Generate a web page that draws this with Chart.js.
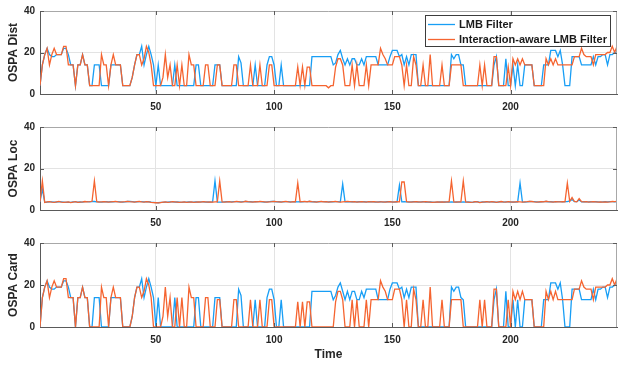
<!DOCTYPE html>
<html><head><meta charset="utf-8">
<script src="https://cdn.jsdelivr.net/npm/chart.js@4.4.1/dist/chart.umd.min.js"></script>
<style>
html,body{margin:0;padding:0;background:#fff;width:623px;height:366px;overflow:hidden;position:relative}
canvas{position:absolute;left:0}
</style></head>
<body>
<canvas id="c1" width="623" height="112" style="top:0px"></canvas>
<canvas id="c2" width="623" height="112" style="top:115px"></canvas>
<canvas id="c3" width="623" height="136" style="top:230px"></canvas>
<script>
const seriesNames = ['LMB Filter', 'Interaction-aware LMB Filter'];
const panelTitles = ['OSPA Dist', 'OSPA Loc', 'OSPA Card'];
const xTitle = 'Time';
const xTicks = [50, 100, 150, 200];
const yTicks = [0, 20, 40];
const time = Array.from({length: 245}, (_, i) => i + 1);

const distLMB = [
4,14,19,22,19,18,18,19,19,19,
22,22,19,14,14,4,14,14,19,14,
14,4,4,14,14,14,4,4,4,4,
14,14,14,14,14,4,4,4,4,8,
14,19,19,23,14,19,23,19,14,4,
14,4,4,4,4,4,4,14,4,4,
4,4,4,4,4,4,14,14,4,4,
4,4,4,4,14,14,14,4,4,4,
4,4,4,4,18,15,4,4,4,4,
4,14,4,4,4,4,14,18,18,14,
4,4,14,4,4,4,4,4,4,4,
4,4,4,4,4,18,18,18,18,18,
18,18,18,18,14,15,19,21,17,14,
17,14,17,17,14,14,17,14,18,18,
18,18,18,14,14,14,14,14,18,21,
21,21,18,19,14,18,14,19,19,19,
4,4,4,4,4,4,4,4,4,4,
4,4,4,4,19,17,19,19,14,14,
4,4,4,4,4,4,4,4,4,4,
4,4,14,18,4,4,4,17,4,4,
14,4,14,4,4,14,14,14,14,4,
4,4,4,14,14,14,21,21,21,18,
21,14,4,4,4,18,18,18,18,14,
14,14,14,14,18,14,18,18,19,19,
14,19,19,20,20];

const distIA = [
4,14,19,22,14,19,22,19,19,19,
23,23,14,14,14,4,14,14,19,14,
14,4,4,4,4,4,19,14,14,4,
14,19,14,14,14,4,4,4,4,8,
14,19,19,14,17,23,20,14,4,4,
4,4,8,19,8,14,4,4,14,4,
14,4,4,19,14,14,4,4,4,4,
14,14,4,4,4,14,14,4,4,4,
4,4,14,14,4,4,4,4,4,14,
4,4,4,14,4,4,4,14,14,4,
4,4,4,4,4,4,4,4,4,13,
4,13,4,13,13,4,4,4,4,4,
4,4,3,4,4,13,17,17,14,4,
4,4,14,4,14,4,4,4,14,4,
14,14,14,14,22,19,17,14,14,14,
18,18,18,14,4,14,4,4,18,14,
4,4,14,4,4,19,4,4,4,4,
14,4,4,4,14,14,14,14,14,4,
4,4,4,4,4,4,14,4,14,4,
4,4,18,18,4,4,4,4,13,4,
17,14,17,14,17,14,14,14,14,4,
4,4,4,4,17,14,17,14,17,14,
14,14,14,14,14,14,18,18,18,22,
19,18,18,18,14,19,19,19,19,19,
20,20,23,20,23];

const locLMB = [
3.9,10,3.7,3.8,3.9,3.9,3.8,3.8,4.0,3.9,
3.8,3.7,3.8,3.7,3.9,3.9,3.8,3.9,3.8,4.0,
4.0,3.9,4.1,4.1,3.9,3.9,3.8,3.9,4.0,3.9,
4.0,3.9,4.0,4.0,3.9,3.8,3.9,4.1,4.1,4.0,
3.9,3.9,4.0,4.0,3.9,3.9,4.0,3.8,3.7,3.6,
3.5,3.7,3.7,3.8,3.8,3.9,3.9,3.8,3.9,3.8,
3.7,3.8,3.8,3.9,3.8,3.8,3.9,3.8,3.9,3.9,
3.8,3.9,3.8,3.9,14,3.8,3.8,3.8,3.9,4.0,
3.9,3.9,4.0,4.0,3.9,3.9,4.0,4.1,3.9,4.0,
3.9,3.9,4.0,4.0,3.9,3.8,3.9,4.0,4.1,4.1,
3.9,4.0,3.9,3.9,4.0,4.0,3.9,3.9,4.0,3.9,
4.0,3.9,4.0,4.0,4.1,3.9,4.0,3.9,3.9,4.0,
4.0,3.9,3.9,4.0,3.9,4.0,4.0,3.9,12.5,3.9,
4.0,3.9,4.0,3.9,3.9,4.0,3.9,4.0,3.9,3.9,
4.0,3.9,3.8,3.9,4.0,3.8,3.9,4.0,3.9,3.9,
3.8,3.9,12,3.9,4.0,3.9,3.8,3.9,4.0,3.9,
3.8,3.9,4.0,3.8,3.8,3.9,3.8,3.7,3.8,3.9,
3.8,3.9,3.8,3.8,3.9,3.8,3.9,3.8,3.8,3.9,
3.8,3.9,3.8,3.7,3.9,4.0,3.7,3.9,3.8,3.9,
3.9,3.9,3.8,3.8,3.8,4.0,3.8,3.9,3.9,3.8,
3.9,3.8,3.9,13,3.9,3.8,3.9,4.1,4.0,4.0,
3.9,3.8,3.9,4.0,4.1,3.9,4.0,3.9,3.9,4.0,
4.0,3.9,4.0,4.0,4.4,5,4.0,4.0,4.8,3.9,
4.0,3.9,3.9,4.0,3.9,4.0,3.9,3.8,3.9,4.0,
3.9,4.0,4.0,3.9,4.1];

const locIA = [
4.0,14,3.6,3.9,4.0,3.8,3.7,3.9,4.1,3.8,
3.7,3.8,3.9,3.6,3.8,4.0,3.7,3.8,3.9,4.1,
3.9,4.0,4.2,14,4.0,3.8,3.9,4.0,3.9,3.8,
3.9,4.0,4.1,3.9,3.8,3.9,4.0,4.2,4.0,3.9,
3.8,4.0,4.1,3.9,3.8,4.0,3.9,3.7,3.6,3.5,
3.4,3.6,3.8,3.9,3.7,3.8,4.0,3.9,3.8,3.7,
3.8,3.9,3.7,3.8,3.9,3.7,3.8,3.9,3.8,4.0,
3.9,3.8,3.9,3.8,3.9,3.9,14,3.9,3.8,3.9,
4.0,3.8,3.9,4.1,4.0,3.8,3.9,4.2,4.0,3.9,
3.8,4.0,3.9,4.1,4.0,3.9,3.8,3.9,4.0,4.2,
4.0,3.9,3.8,4.0,4.1,3.9,3.8,4.0,3.9,13,
3.9,4.0,4.1,3.9,4.2,4.0,3.9,3.8,4.0,4.1,
3.9,4.0,3.8,3.9,4.0,4.1,3.9,3.8,3.9,4.0,
4.1,4.0,3.9,4.0,3.8,3.9,4.0,3.9,3.8,4.0,
3.9,4.0,3.9,3.8,3.9,3.9,3.8,3.9,4.0,3.8,
3.9,4.0,3.9,13.5,13.5,4.0,3.9,3.8,3.9,4.0,
3.9,3.8,3.9,4.0,3.9,3.8,3.7,3.8,3.9,3.8,
3.9,3.8,3.9,3.9,14,3.9,3.8,3.9,3.9,14,
3.9,3.8,3.7,3.8,4.0,3.9,3.6,3.8,3.9,4.0,
3.8,4.0,3.9,3.7,3.9,4.1,3.9,3.8,4.0,3.9,
3.8,3.9,4.0,3.9,3.8,3.9,4.0,4.2,4.1,3.9,
3.8,3.9,4.0,3.9,4.2,4.0,3.9,3.8,4.0,3.9,
3.9,4.0,3.9,13,4.2,6,4.1,3.9,5.5,4.0,
3.9,4.0,3.8,3.9,4.0,3.9,3.8,3.9,3.8,3.9,
3.8,3.9,4.1,4.0,4.2];

const cardLMB = [
0,14,19,22,19,18,18,19,19,19,
22,22,19,14,14,0,14,14,19,14,
14,0,0,14,14,14,0,0,0,0,
14,14,14,14,14,0,0,0,0,5,
14,19,19,23,14,19,23,19,14,0,
14,0,0,0,0,0,0,14,0,0,
0,0,0,0,0,0,14,14,0,0,
0,0,0,0,14,14,14,0,0,0,
0,0,0,0,18,15,0,0,0,0,
0,13,0,0,0,0,14,18,18,13,
0,0,13,0,0,0,0,0,0,0,
0,0,0,0,0,17,17,17,17,17,
17,17,17,17,13,15,19,21,17,13,
17,13,17,17,13,13,17,14,18,18,
18,18,18,13,13,13,13,13,18,21,
21,21,18,19,14,18,14,19,19,19,
0,0,0,0,0,0,0,0,0,0,
0,0,0,0,19,17,19,19,14,13,
0,0,0,0,0,0,0,0,0,0,
0,0,13,18,0,0,0,17,0,0,
13,0,13,0,0,13,13,13,13,0,
0,0,0,13,13,13,21,21,21,18,
21,13,0,0,0,18,18,18,18,13,
13,13,13,13,18,13,18,18,19,19,
14,19,19,20,20];

const cardIA = [
0,14,19,22,14,19,22,19,19,19,
23,23,14,14,14,0,14,14,19,14,
14,0,0,0,0,0,19,14,14,0,
14,19,14,14,14,0,0,0,0,5,
14,19,19,14,17,23,20,14,0,0,
0,0,5,19,5,14,0,0,14,0,
14,0,0,19,14,14,0,0,0,0,
14,14,0,0,0,13,13,0,0,0,
0,0,13,13,0,0,0,0,0,13,
0,0,0,13,0,0,0,13,13,0,
0,0,0,0,0,0,0,0,0,12,
0,12,0,12,12,0,0,0,0,0,
0,0,0,0,0,12,17,17,13,0,
0,0,13,0,13,0,0,0,13,0,
13,13,13,13,22,19,17,13,13,13,
18,18,18,13,0,13,0,0,18,13,
0,0,13,0,0,19,0,0,0,0,
13,0,0,0,13,13,13,13,13,0,
0,0,0,0,0,0,13,0,13,0,
0,0,18,18,0,0,0,0,13,0,
17,13,17,13,17,13,13,13,13,0,
0,0,0,0,17,13,17,13,17,13,
13,13,13,13,13,13,18,18,18,22,
19,18,18,18,13,19,19,19,19,19,
20,20,23,20,23];

const BLUE = 'rgb(24,158,245)';
const ORANGE = 'rgb(245,100,48)';
const FONT = "'Liberation Sans', Arial, sans-serif";
const AXIS = '#5a5a5a';

const boxPlugin = {
  id: 'box',
  afterDraw(chart, args, opts) {
    const {ctx, chartArea: a} = chart;
    ctx.save();
    ctx.strokeStyle = '#a8a8a8';
    ctx.lineWidth = 1;
    ctx.beginPath();
    ctx.moveTo(a.left, a.top + 0.5); ctx.lineTo(a.right, a.top + 0.5);
    ctx.moveTo(a.right - 0.5, a.top); ctx.lineTo(a.right - 0.5, a.bottom);
    ctx.stroke();
    ctx.strokeStyle = AXIS;
    ctx.beginPath();
    const xs = chart.scales.x, ys = chart.scales.y;
    xTicks.forEach(v => {
      const px = Math.round(xs.getPixelForValue(v)) + 0.5;
      ctx.moveTo(px, a.bottom); ctx.lineTo(px, a.bottom - 4);
      ctx.moveTo(px, a.top); ctx.lineTo(px, a.top + 4);
    });
    yTicks.forEach(v => {
      const py = Math.round(ys.getPixelForValue(v)) + 0.5;
      ctx.moveTo(a.left, py); ctx.lineTo(a.left + 4, py);
      ctx.moveTo(a.right, py); ctx.lineTo(a.right - 4, py);
    });
    ctx.stroke();
    if (opts && opts.legend) {
      const L = 425, T = 15, R = 611, B = 47;
      ctx.fillStyle = '#fff';
      ctx.fillRect(L, T, R - L, B - T);
      ctx.strokeStyle = '#3c3c3c';
      ctx.lineWidth = 1;
      ctx.strokeRect(L + 0.5, T + 0.5, R - L - 1, B - T - 1);
      const rows = [[BLUE, seriesNames[0], 24.5], [ORANGE, seriesNames[1], 39.5]];
      ctx.font = 'bold 11px ' + FONT;
      ctx.textBaseline = 'middle';
      rows.forEach(([c, t, y]) => {
        ctx.strokeStyle = c; ctx.lineWidth = 1.3;
        ctx.beginPath(); ctx.moveTo(428, y); ctx.lineTo(455, y); ctx.stroke();
        ctx.fillStyle = '#1a1a1a';
        ctx.fillText(t, 459, y);
      });
    }
    ctx.restore();
  }
};

function makeChart(id, lmb, ia, yTitle, padTop, xAxisH, showLegend, showXTitle) {
  return new Chart(document.getElementById(id), {
    type: 'line',
    data: {
      labels: time,
      datasets: [
        {label: seriesNames[0], data: lmb, borderColor: BLUE, borderWidth: 1.3, pointRadius: 0, tension: 0, order: 2},
        {label: seriesNames[1], data: ia, borderColor: ORANGE, borderWidth: 1.3, pointRadius: 0, tension: 0, order: 1}
      ]
    },
    options: {
      responsive: false,
      animation: false,
      events: [],
      layout: {padding: {top: padTop, right: 6, left: 0, bottom: 0}},
      plugins: {legend: {display: false}, tooltip: {enabled: false}, box: {legend: showLegend}},
      scales: {
        x: {
          type: 'linear', min: 1, max: 245,
          afterBuildTicks: s => { s.ticks = xTicks.map(v => ({value: v})); },
          afterFit: s => { s.height = xAxisH; },
          ticks: {color: '#262626', font: {family: FONT, size: 10, weight: 'bold'}, padding: 7, maxRotation: 0, autoSkip: false},
          grid: {color: '#e3e3e3', drawTicks: false, lineWidth: 1},
          border: {display: true, color: AXIS, width: 1},
          title: {display: showXTitle, text: xTitle, color: '#262626', font: {family: FONT, size: 12, weight: 'bold'}, padding: {top: 0, bottom: 4}}
        },
        y: {
          min: 0, max: 40,
          afterBuildTicks: s => { s.ticks = yTicks.map(v => ({value: v})); },
          afterFit: s => { s.width = 40; },
          ticks: {color: '#262626', font: {family: FONT, size: 10, weight: 'bold'}, padding: 5},
          grid: {color: '#e3e3e3', drawTicks: false, lineWidth: 1},
          border: {display: true, color: AXIS, width: 1},
          title: {display: true, text: yTitle, color: '#262626', font: {family: FONT, size: 12, weight: 'bold'}, padding: {top: 6, bottom: 0}}
        }
      }
    },
    plugins: [boxPlugin]
  });
}

makeChart('c1', distLMB, distIA, panelTitles[0], 11, 18, true, false);
makeChart('c2', locLMB, locIA, panelTitles[1], 12, 17, false, false);
makeChart('c3', cardLMB, cardIA, panelTitles[2], 13, 39, false, true);
</script>
</body></html>
